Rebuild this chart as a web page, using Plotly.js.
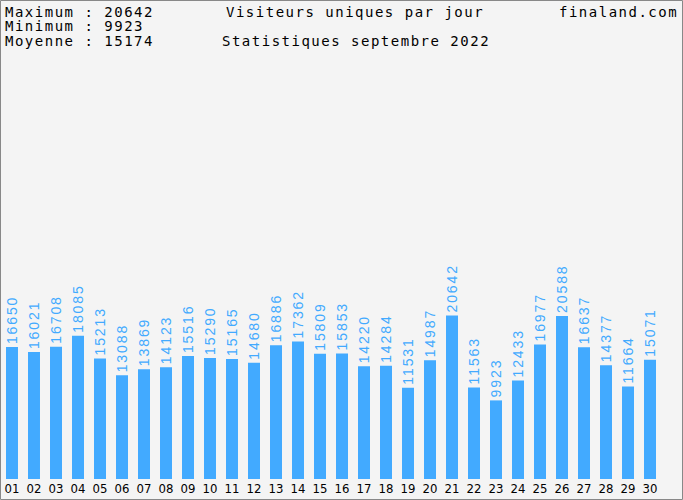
<!DOCTYPE html>
<html>
<head>
<meta charset="utf-8">
<script src="https://cdn.plot.ly/plotly-3.0.1.min.js"></script>
<style>
html,body{margin:0;padding:0;background:#f4f4f4;}
#chart{width:683px;height:500px;}
</style>
</head>
<body>
<div id="chart"></div>
<script>
const days = ['01','02','03','04','05','06','07','08','09','10','11','12','13','14','15','16','17','18','19','20','21','22','23','24','25','26','27','28','29','30'];
const visitors = [16650,16021,16708,18085,15213,13088,13869,14123,15516,15290,15165,14680,16886,17362,15809,15853,14220,14284,11531,14987,20642,11563,9923,12433,16977,20588,16637,14377,11664,15071];
const headerLeft = ['Maximum : 20642','Minimum : 9923','Moyenne : 15174'];
const chartTitle = 'Visiteurs uniques par jour';
const subTitle = 'Statistiques septembre 2022';
const siteName = 'finaland.com';

const W = 683, H = 500;
const M = {l:1, r:22, t:60, b:21};
const PW = W - M.l - M.r, PH = H - M.t - M.b;
const px = x => (x - M.l) / PW;
const py = y => (H - M.b - y) / PH;

const sp = (s, ls) => '<span style="letter-spacing:' + ls + 'px">' + s + '</span>';

const blue = '#42aaff';
const hdrFont = {family:'DejaVu Sans Mono, Liberation Mono, monospace', size:14, color:'#000'};

const annotations = [];
const lineY = [12, 26.3, 40.6];
headerLeft.forEach((t, i) => {
  annotations.push({text: sp(t, 1.5), x: px(4), y: py(lineY[i]), xref:'paper', yref:'paper',
    xanchor:'left', yanchor:'middle', showarrow:false, borderpad:0, font:hdrFont});
});
annotations.push({text: sp(chartTitle, 1.5), x: px(225), y: py(lineY[0]), xref:'paper', yref:'paper',
  xanchor:'left', yanchor:'middle', showarrow:false, borderpad:0, font:hdrFont});
annotations.push({text: sp(subTitle, 1.5), x: px(221), y: py(lineY[2]), xref:'paper', yref:'paper',
  xanchor:'left', yanchor:'middle', showarrow:false, borderpad:0, font:hdrFont});
annotations.push({text: sp(siteName, 1.5), x: px(558), y: py(lineY[0]), xref:'paper', yref:'paper',
  xanchor:'left', yanchor:'middle', showarrow:false, borderpad:0, font:hdrFont});

const trace = {
  type:'bar', x: days, y: visitors,
  text: visitors.map(v => sp(String(v), 1.9)),
  textposition:'outside', textangle:-90, constraintext:'none', cliponaxis:false,
  textfont:{family:'Liberation Sans, Arial, sans-serif', size:14, color:blue},
  marker:{color:blue, line:{width:0}},
  hoverinfo:'none'
};

const layout = {
  width:W, height:H,
  margin:M,
  paper_bgcolor:'#f4f4f4', plot_bgcolor:'#f4f4f4',
  bargap:0.455,
  showlegend:false,
  xaxis:{type:'category', showgrid:false, zeroline:false, showline:false, ticks:'',
    tickfont:{family:'Liberation Sans Narrow, DejaVu Sans Condensed, Arial, sans-serif', size:13, color:'#000'},
    fixedrange:true},
  yaxis:{visible:false, range:[0, 52900], fixedrange:true},
  annotations: annotations,
  shapes:[{type:'rect', xref:'paper', yref:'paper', x0:px(0.5), x1:px(682.5), y0:py(0.5), y1:py(499.5),
    line:{color:'#888888', width:1}, fillcolor:'rgba(0,0,0,0)', layer:'above'}]
};

Plotly.newPlot('chart', [trace], layout, {staticPlot:true, displayModeBar:false});
</script>
</body>
</html>
